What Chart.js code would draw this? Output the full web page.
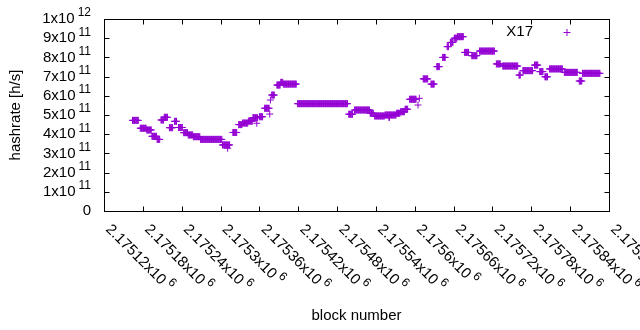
<!DOCTYPE html>
<html>
<head>
<meta charset="utf-8">
<script src="https://cdn.jsdelivr.net/npm/chart.js@4/dist/chart.umd.min.js"></script>
<style>
  html, body { margin: 0; padding: 0; background: #fff; }
</style>
</head>
<body>
<canvas id="chart" width="640" height="330"></canvas>
<script>
// block numbers are stored as offsets from the first tick
const BLOCK0 = 2175120;
const seriesName = 'X17';

// runs of constant hashrate (offset from BLOCK0, inclusive), value in 1e11 h/s
const runStart = [44, 56, 66, 74, 82, 88, 93, 101, 109, 115, 123, 130, 138, 149, 183, 191, 199, 208, 214, 223, 230, 236, 240, 248, 256, 257, 259, 267, 273, 277,
  299, 378, 387, 411, 418, 434, 440, 452, 458, 465, 472, 485, 487, 493, 505, 514, 523, 530, 535, 541, 546, 557, 568, 580, 606, 616,
  641, 647, 665, 673, 681, 688, 711, 734, 739];
const runEnd = [53, 65, 73, 81, 86, 92, 98, 106, 112, 121, 129, 137, 148, 182, 194, 191, 205, 213, 222, 229, 237, 236, 245, 255, 256, 257, 263, 272, 276, 297,
  376, 384, 410, 416, 433, 451, 441, 457, 464, 469, 482, 485, 487, 500, 510, 518, 527, 532, 539, 545, 555, 563, 576, 603, 612, 639,
  643, 662, 670, 678, 685, 708, 731, 738, 766];
const runValue = [4.72, 4.31, 4.22, 3.89, 3.73, 4.74, 4.88, 4.34, 4.67, 4.35, 4.08, 3.96, 3.87, 3.73, 3.44, 3.27, 4.09, 4.50, 4.58, 4.68, 4.86, 4.57, 4.91, 5.35, 5.05, 5.78, 6.04, 6.56, 6.70, 6.61,
  5.59, 5.04, 5.26, 5.09, 4.95, 5.00, 4.88, 5.09, 5.17, 5.30, 5.82, 5.52, 5.87, 6.88, 6.61, 7.52, 8.00, 8.56, 8.78, 9.00, 9.08, 8.26, 8.09, 8.33, 7.66, 7.55,
  7.08, 7.31, 7.60, 7.26, 6.99, 7.40, 7.22, 6.77, 7.17];

const xTickMantissa = ['2.17512', '2.17518', '2.17524', '2.1753', '2.17536', '2.17542', '2.17548', '2.17554',
  '2.1756', '2.17566', '2.17572', '2.17578', '2.17584', '2.1759'];
const xTickExponent = '6';
const yTickMantissa = ['0', '1', '2', '3', '4', '5', '6', '7', '8', '9', '1'];
const yTickExponent = ['', '11', '11', '11', '11', '11', '11', '11', '11', '11', '12'];

const COLOR = '#9400d3';
const FONT = '"Liberation Sans", Arial, sans-serif';

// one point per block inside each run
const points = [];
runStart.forEach((s, i) => {
  for (let b = s; b <= runEnd[i]; b++) points.push({ x: BLOCK0 + b, y: runValue[i] * 1e11 });
});

const gnuplotFrame = {
  id: 'gnuplotFrame',
  afterDraw(chart) {
    const { ctx, chartArea: a, scales: { x, y } } = chart;
    const L = Math.round(a.left) + 0.5, R = Math.round(a.right) + 0.5;
    const T = Math.round(a.top) + 0.5, B = Math.round(a.bottom) + 0.5;
    ctx.save();
    ctx.strokeStyle = '#000';
    ctx.lineWidth = 1;
    ctx.strokeRect(L, T, R - L, B - T);
    ctx.beginPath();
    y.ticks.forEach((t) => {
      const py = Math.round(y.getPixelForValue(t.value)) + 0.5;
      ctx.moveTo(L, py); ctx.lineTo(L + 5, py);
      ctx.moveTo(R, py); ctx.lineTo(R - 5, py);
    });
    x.ticks.forEach((t) => {
      const px = Math.round(x.getPixelForValue(t.value)) + 0.5;
      ctx.moveTo(px, B); ctx.lineTo(px, B - 5);
      ctx.moveTo(px, T); ctx.lineTo(px, T + 5);
    });
    ctx.stroke();

    ctx.fillStyle = '#000';
    ctx.textBaseline = 'middle';
    // y tick labels with superscript exponent
    y.ticks.forEach((t, i) => {
      const py = y.getPixelForValue(t.value);
      const right = a.left - 13;
      ctx.textAlign = 'right';
      if (yTickExponent[i]) {
        ctx.font = `12px ${FONT}`;
        ctx.fillText(yTickExponent[i], right, py - 6);
        const w = ctx.measureText(yTickExponent[i]).width;
        ctx.font = `15px ${FONT}`;
        ctx.fillText(yTickMantissa[i] + 'x10', right - w - 3, py);
      } else {
        ctx.font = `15px ${FONT}`;
        ctx.fillText(yTickMantissa[i], right, py);
      }
    });
    // x tick labels rotated by 45 degrees
    x.ticks.forEach((t, i) => {
      const px = x.getPixelForValue(t.value);
      ctx.save();
      ctx.translate(px + 4, a.bottom + 16);
      ctx.rotate(Math.PI / 4);
      ctx.textAlign = 'left';
      ctx.font = `15px ${FONT}`;
      const txt = xTickMantissa[i] + 'x10';
      ctx.fillText(txt, 0, 0);
      const w = ctx.measureText(txt).width;
      ctx.font = `12px ${FONT}`;
      ctx.fillText(xTickExponent, w + 3, -6);
      ctx.restore();
    });

    // axis titles
    ctx.font = `15px ${FONT}`;
    ctx.textAlign = 'center';
    ctx.fillText('block number', (a.left + a.right) / 2, 316);
    ctx.save();
    ctx.translate(16, (a.top + a.bottom) / 2);
    ctx.rotate(-Math.PI / 2);
    ctx.fillText('hashrate [h/s]', 0, 0);
    ctx.restore();

    // key, top right inside the frame
    ctx.textAlign = 'right';
    ctx.fillText(seriesName, 533, 32);
    ctx.strokeStyle = COLOR;
    ctx.beginPath();
    ctx.moveTo(563.5, 32.5); ctx.lineTo(570.5, 32.5);
    ctx.moveTo(567, 29); ctx.lineTo(567, 36);
    ctx.stroke();
    ctx.restore();
  }
};

new Chart(document.getElementById('chart'), {
  type: 'scatter',
  data: {
    datasets: [{
      label: seriesName,
      data: points,
      pointStyle: 'cross',
      pointRadius: 3.5,
      pointBorderWidth: 1,
      borderColor: COLOR,
      backgroundColor: COLOR,
      showLine: false
    }]
  },
  options: {
    responsive: false,
    animation: false,
    devicePixelRatio: 1,
    layout: { padding: { left: 0, top: 19, right: 31, bottom: 0 } },
    plugins: { legend: { display: false }, tooltip: { enabled: false } },
    scales: {
      x: {
        type: 'linear', min: BLOCK0, max: BLOCK0 + 780,
        ticks: { stepSize: 60, display: false },
        grid: { display: false }, border: { display: false },
        afterFit: (s) => { s.height = 119; }
      },
      y: {
        min: 0, max: 1e12,
        ticks: { stepSize: 1e11, display: false },
        grid: { display: false }, border: { display: false },
        afterFit: (s) => { s.width = 104; }
      }
    }
  },
  plugins: [gnuplotFrame]
});
</script>
</body>
</html>
